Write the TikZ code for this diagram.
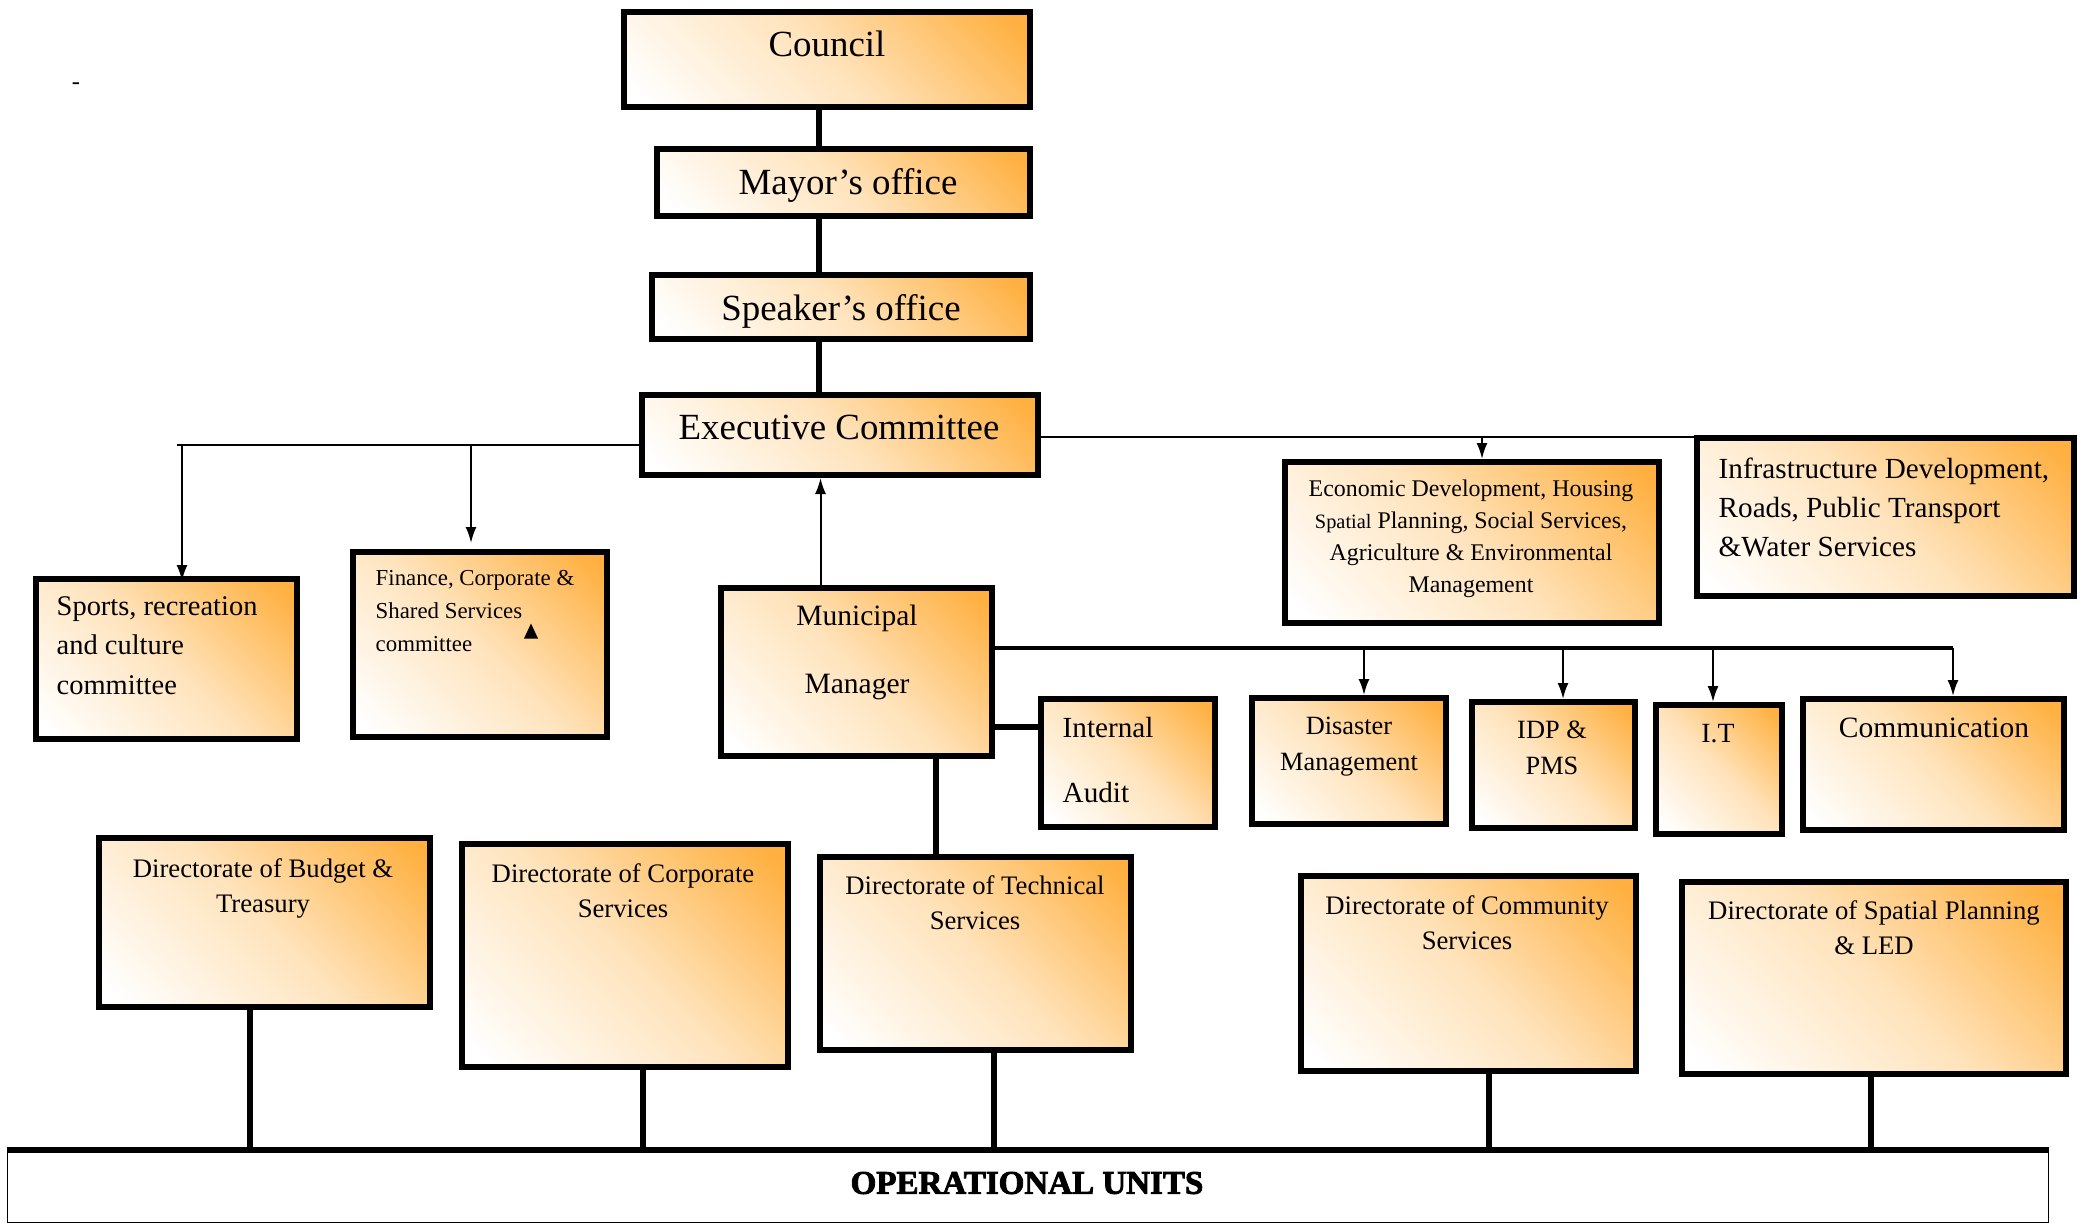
\documentclass[tikz,border=0pt]{standalone}
\usepackage{fontspec}
\setmainfont{Liberation Serif}
\newfontfamily\opsfont[FakeBold=2.5]{Liberation Serif Bold}
\usepackage{tikz}
\usetikzlibrary{arrows.meta,calc}
\definecolor{boxorange}{RGB}{255,176,64}
\colorlet{boxpeach}{boxorange!35!white}
\pgfdeclareverticalshading{orgshade}{100bp}{color(0bp)=(white); color(18bp)=(white); color(50bp)=(boxpeach); color(82bp)=(boxorange); color(100bp)=(boxorange)}

\begin{document}
\begin{tikzpicture}[
  orgbox/.style={draw=black, line width=0.06cm, shading=orgshade, shading angle=-45, inner sep=0pt},
  lbl/.style={inner sep=0pt, anchor=north, align=center},
  lbll/.style={inner sep=0pt, anchor=north west, align=left},
  trunk/.style={line width=0.06cm},
  link/.style={line width=0.02cm},
  bus/.style={line width=0.033cm},
  arr/.style={-{Latex[length=0.16cm,width=0.11cm]}}]
\useasboundingbox (0,0) rectangle (20.84,-12.24);

\node[orgbox, minimum width=4.06cm, minimum height=0.95cm] (council) at (8.27,-0.595) {};
\node[orgbox, minimum width=3.73cm, minimum height=0.67cm] (mayor) at (8.435,-1.825) {};
\node[orgbox, minimum width=3.78cm, minimum height=0.64cm] (speaker) at (8.41,-3.07) {};
\node[orgbox, minimum width=3.96cm, minimum height=0.80cm] (exec) at (8.40,-4.35) {};
\node[orgbox, minimum width=2.71cm, minimum height=1.68cm] (mm) at (8.565,-6.72) {};
\node[orgbox, minimum width=2.61cm, minimum height=1.60cm] (sports) at (1.665,-6.59) {};
\node[orgbox, minimum width=2.54cm, minimum height=1.85cm] (finance) at (4.80,-6.445) {};
\node[orgbox, minimum width=3.74cm, minimum height=1.61cm] (econ) at (14.72,-5.425) {};
\node[orgbox, minimum width=3.77cm, minimum height=1.58cm] (infra) at (18.855,-5.17) {};
\node[orgbox, minimum width=1.74cm, minimum height=1.28cm] (audit) at (11.28,-7.63) {};
\node[orgbox, minimum width=1.94cm, minimum height=1.26cm] (disaster) at (13.49,-7.61) {};
\node[orgbox, minimum width=1.63cm, minimum height=1.26cm] (idp) at (15.535,-7.65) {};
\node[orgbox, minimum width=1.26cm, minimum height=1.29cm] (it) at (17.19,-7.695) {};
\node[orgbox, minimum width=2.61cm, minimum height=1.31cm] (comm) at (19.335,-7.645) {};
\node[orgbox, minimum width=3.31cm, minimum height=1.69cm] (budget) at (2.645,-9.225) {};
\node[orgbox, minimum width=3.26cm, minimum height=2.23cm] (corporate) at (6.25,-9.555) {};
\node[orgbox, minimum width=3.11cm, minimum height=1.93cm] (technical) at (9.755,-9.535) {};
\node[orgbox, minimum width=3.35cm, minimum height=1.95cm] (community) at (14.685,-9.735) {};
\node[orgbox, minimum width=3.84cm, minimum height=1.92cm] (spatial) at (18.74,-9.78) {};
\node[draw, line width=0.01cm, minimum width=20.41cm, minimum height=0.72cm, inner sep=0pt] (ops) at (10.28,-11.865) {};
\draw[trunk] (ops.north west) -- (ops.north east);

\node[lbl, font=\fontsize{10.5}{12.6}\selectfont] (council-l) at (8.27,-0.30) {Council};
\node[lbl, font=\fontsize{10.5}{12.6}\selectfont] (mayor-l) at (8.48,-1.68) {Mayor’s office};
\node[lbl, font=\fontsize{10.5}{12.6}\selectfont] (speaker-l) at (8.41,-2.94) {Speaker’s office};
\node[lbl, font=\fontsize{10.5}{12.6}\selectfont] (exec-l) at (8.39,-4.14) {Executive Committee};
\node[lbl, font=\fontsize{8.4}{19.3}\selectfont] (mm-l) at (8.57,-6.04) {Municipal\\Manager};
\node[lbll, font=\fontsize{8.1}{11.2}\selectfont] (sports-l) at (0.56,-5.96) {Sports, recreation\\and culture\\committee};
\node[lbll, font=\fontsize{6.5}{9.4}\selectfont] (finance-l) at (3.75,-5.70) {Finance, Corporate \&\\Shared Services\\committee};
\fill (finance.center) ++(0.44,0.06) -- ++(0.14,0) -- ++(-0.07,0.15) -- cycle;
\node[lbl, font=\fontsize{6.8}{9.1}\selectfont] (econ-l) at (14.71,-4.79) {Economic Development, Housing\\{\fontsize{5.8}{9.1}\selectfont Spatial} Planning, Social Services,\\Agriculture \& Environmental\\Management};
\node[lbll, font=\fontsize{8.3}{11.1}\selectfont] (infra-l) at (17.18,-4.57) {Infrastructure Development,\\Roads, Public Transport\\\&Water Services};
\node[lbll, font=\fontsize{8.3}{18.5}\selectfont] (audit-l) at (10.62,-7.17) {Internal\\Audit};
\node[lbl, font=\fontsize{7.5}{10.2}\selectfont] (disaster-l) at (13.49,-7.16) {Disaster\\Management};
\node[lbl, font=\fontsize{7.5}{10.2}\selectfont] (idp-l) at (15.52,-7.20) {IDP \&\\PMS};
\node[lbl, font=\fontsize{7.9}{10.2}\selectfont] (it-l) at (17.18,-7.24) {I.T};
\node[lbl, font=\fontsize{8.4}{10.2}\selectfont] (comm-l) at (19.34,-7.17) {Communication};
\node[lbl, font=\fontsize{7.6}{10}\selectfont] (budget-l) at (2.63,-8.58) {Directorate of Budget \&\\Treasury};
\node[lbl, font=\fontsize{7.6}{10}\selectfont] (corporate-l) at (6.23,-8.63) {Directorate of Corporate\\Services};
\node[lbl, font=\fontsize{7.6}{10}\selectfont] (technical-l) at (9.75,-8.75) {Directorate of Technical\\Services};
\node[lbl, font=\fontsize{7.6}{10}\selectfont] (community-l) at (14.67,-8.95) {Directorate of Community\\Services};
\node[lbl, font=\fontsize{7.6}{10}\selectfont] (spatial-l) at (18.74,-9.00) {Directorate of Spatial Planning\\\& LED};
\node[inner sep=0pt, font=\fontsize{9.4}{11}\selectfont\opsfont] (ops-l) at (10.27,-11.83) {OPERATIONAL UNITS};
\node[inner sep=0pt, font=\fontsize{7}{8}\selectfont] (dash-l) at (0.76,-0.86) {-};

\coordinate (spine) at (8.19,0);
\draw[trunk] (council.south -| spine) -- (mayor.north -| spine);
\draw[trunk] (mayor.south -| spine) -- (speaker.north -| spine);
\draw[trunk] (speaker.south -| spine) -- (exec.north -| spine);

\coordinate (lbus) at (1.77,-4.45);
\draw[link] (lbus) -- (lbus -| exec.west);
\draw[link,arr] ([xshift=0.155cm]sports.north |- lbus) -- ([xshift=0.155cm,yshift=-0.05cm]sports.north);
\draw[link,arr,shorten >=0.06cm] ([xshift=-0.09cm]finance.north |- lbus) -- ([xshift=-0.09cm]finance.north);

\coordinate (rbus) at (0,-4.37);
\draw[link] (exec.east |- rbus) -- (infra.west |- rbus);
\draw[link,arr] ([xshift=0.1cm]econ.north |- rbus) -- ([xshift=0.1cm]econ.north);

\draw[link,arr] ([xshift=-0.36cm]mm.north) -- ([xshift=-0.36cm]mm.north |- exec.south);

\coordinate (mbus) at ([yshift=0.24cm]mm.east);
\draw[bus] (mbus) -- ([xshift=0.195cm]comm.north |- mbus);
\foreach \b/\dx in {disaster/0.15, idp/0.095, it/-0.06, comm/0.195}
  \draw[link,arr] ([xshift=\dx cm]\b.north |- mbus) -- ([xshift=\dx cm]\b.north);

\draw[trunk] ([yshift=-0.55cm]mm.east) -- ([yshift=-0.55cm]mm.east -| audit.west);
\draw[trunk] ([xshift=0.795cm]mm.south) -- ([xshift=0.795cm]mm.south |- technical.north);

\foreach \d/\dx in {budget/-0.145, corporate/0.18, technical/0.185, community/0.205, spatial/-0.03}
  \draw[trunk] ([xshift=\dx cm]\d.south) -- ([xshift=\dx cm]\d.south |- ops.north);
\end{tikzpicture}
\end{document}
